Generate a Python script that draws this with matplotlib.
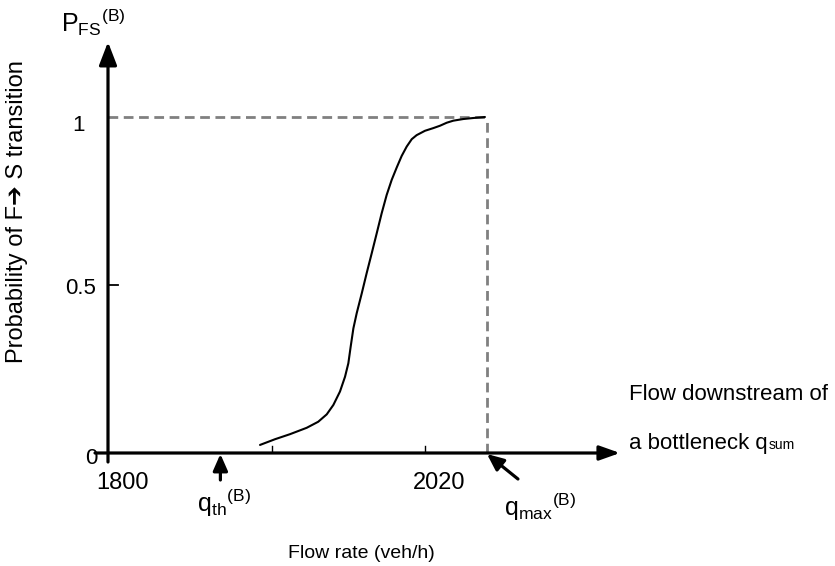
import numpy as np
import matplotlib.pyplot as plt

plt.rcParams['font.family'] = ['Liberation Sans', 'DejaVu Sans']
plt.rcParams['mathtext.fontset'] = 'custom'
plt.rcParams['mathtext.rm'] = 'Liberation Sans'
plt.rcParams['mathtext.it'] = 'Liberation Sans'

# curve
flow = [1905.5, 1915.9, 1926.3, 1937.9, 1945.9, 1951.8, 1956.4, 1961.0,
        1964.5, 1966.8, 1968.4, 1970.3, 1972.6, 1976.1, 1979.5, 1983.0,
        1986.5, 1989.9, 1993.4, 1996.9, 2000.4, 2003.8, 2007.3, 2010.8,
        2014.2, 2020.0, 2025.8, 2030.4, 2035.1, 2039.6, 2046.6, 2053.5,
        2061.6]
prob = [0.024, 0.041, 0.056, 0.075, 0.093, 0.115, 0.143, 0.183,
        0.227, 0.267, 0.316, 0.371, 0.416, 0.475, 0.535, 0.594,
        0.654, 0.713, 0.768, 0.813, 0.850, 0.884, 0.912, 0.934,
        0.946, 0.959, 0.967, 0.974, 0.983, 0.989, 0.994, 0.997,
        1.0]

q_th = 1878
q_max = 2063
xtick_pos = [1800, 2020]
xtick_labels = ['1800', '2020']
minor_xticks = [1914, 2020]
ytick_pos = [0, 0.5, 1]
ytick_labels = ['0', '0.5', '1']

W, H = 835, 566
fig = plt.figure(figsize=(W / 100, H / 100), dpi=100)

# axes box in pixels: x 108..620, y 42..453
px_x = (425 - 108) / 220.0     # pixels per veh/h
px_y = 336.0                   # pixels per probability unit
ax = fig.add_axes([108 / W, (H - 453) / H, (620 - 108) / W, (453 - 42) / H])
ax.set_xlim(1800, 1800 + (620 - 108) / px_x)
ax.set_ylim(0, (453 - 42) / px_y)
for s in ax.spines.values():
    s.set_visible(False)
ax.set_xticks([])
ax.set_yticks([])

xmax = ax.get_xlim()[1]
ymax = ax.get_ylim()[1]

# axis arrows
arr = dict(arrowstyle='-|>,head_length=0.62,head_width=0.22', lw=2.3,
           color='black', mutation_scale=20, shrinkA=0, shrinkB=0)
ax.annotate('', xy=(xmax, 0), xytext=(1800 - 13 / px_x, 0),
            arrowprops=arr, annotation_clip=False)
ax.annotate('', xy=(1800, ymax), xytext=(1800, -9 / px_y),
            arrowprops=dict(arr, arrowstyle='-|>,head_length=0.7,head_width=0.27'),
            annotation_clip=False)

# small ticks
for xt in minor_xticks:
    ax.plot([xt, xt], [0, 7 / px_y], color='black', lw=1.0)
ax.plot([1800, 1800 + 10 / px_x], [0.5, 0.5], color='black', lw=1.3)

# dashed guide lines
ax.plot([1800, q_max], [1, 1], color='#808080', lw=2.0, ls=(0, (3.5, 2)))
ax.plot([q_max, q_max], [0, 1], color='#808080', lw=2.0, ls=(0, (3.5, 2)))

# probability curve
ax.plot(flow, prob, color='black', lw=1.5, solid_joinstyle='round',
        solid_capstyle='round')

# tick labels
for xp, lab in zip(xtick_pos, xtick_labels):
    ax.annotate(lab, xy=(xp, 0), xytext=(14 * 0.72, -30 * 0.72),
                textcoords='offset points', ha='center', va='center',
                fontsize=17, annotation_clip=False)
y_off = {'0': (-17, -5), '0.5': (-27, -4), '1': (-29, -8)}
for yp, lab in zip(ytick_pos, ytick_labels):
    dx, dy = y_off[lab]
    ax.annotate(lab, xy=(1800, yp), xytext=(dx * 0.72, dy * 0.72),
                textcoords='offset points', ha='center', va='center',
                fontsize=16, annotation_clip=False)

# q_th and q_max markers
marker_arr = dict(arrowstyle='-|>,head_length=0.5,head_width=0.22',
                  lw=2.3, color='black', mutation_scale=20,
                  shrinkA=0, shrinkB=0)
ax.annotate('', xy=(q_th, -1 / px_y), xytext=(q_th, -27 / px_y),
            arrowprops=marker_arr, annotation_clip=False)
ax.annotate('', xy=(q_max, -1 / px_y), xytext=(q_max + 31 / px_x, -26 / px_y),
            arrowprops=marker_arr, annotation_clip=False)

def fp(x, y):
    return (x / W, 1 - y / H)

fig.text(*fp(224, 503), r'$\mathregular{q_{th}{}^{(B)}}$', fontsize=18,
         ha='center', va='center')
fig.text(*fp(540, 507), r'$\mathregular{q_{max}{}^{(B)}}$', fontsize=18,
         ha='center', va='center')
fig.text(*fp(93, 22), r'$\mathregular{P_{FS}{}^{(B)}}$', fontsize=18,
         ha='center', va='center')

# axis descriptions
fig.text(*fp(17, 212), 'Probability of F\u2794 S transition', fontsize=17,
         rotation=90, ha='center', va='center')
fig.text(*fp(361, 553), 'Flow rate (veh/h)', fontsize=14,
         ha='center', va='center')
fig.text(*fp(629, 395), 'Flow downstream of', fontsize=16,
         ha='left', va='center')
t2 = fig.text(*fp(629, 443), 'a bottleneck q', fontsize=16,
              ha='left', va='center')
ax.annotate('sum', xy=(1, 0), xycoords=t2, xytext=(0.5, 0.8),
            textcoords='offset points', ha='left', va='bottom', fontsize=10,
            annotation_clip=False)

fig.savefig('out.png', dpi=100)
